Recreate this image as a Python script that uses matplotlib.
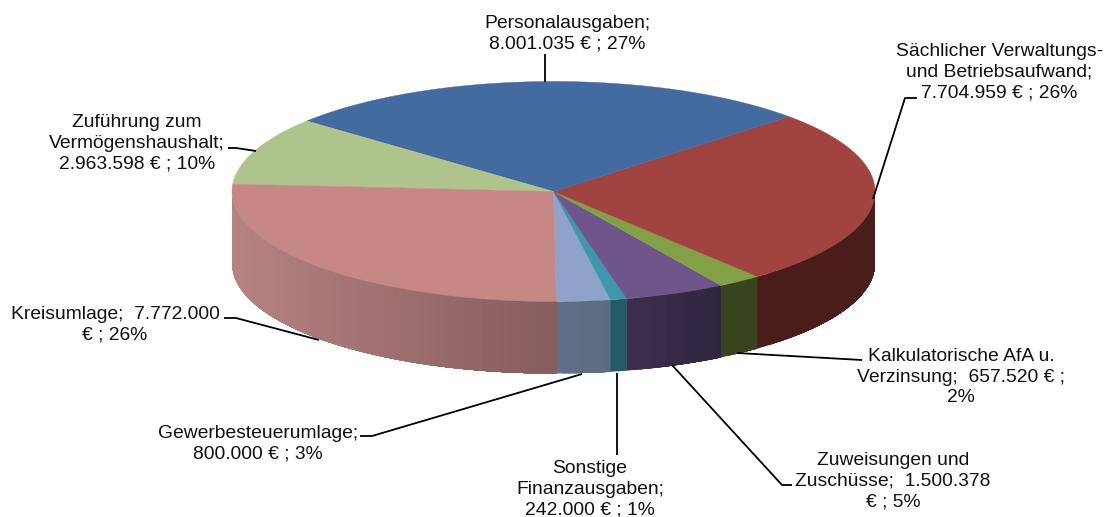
import numpy as np
import matplotlib
matplotlib.use("Agg")
import matplotlib.pyplot as plt
from matplotlib.colors import to_rgb

# data, in drawing order (counter-clockwise on screen, starting at the front)
categories = ["Gewerbesteuerumlage", "Sonstige Finanzausgaben", "Zuweisungen und Zuschüsse",
              "Kalkulatorische AfA u. Verzinsung", "Sächlicher Verwaltungs- und Betriebsaufwand",
              "Personalausgaben", "Zuführung zum Vermögenshaushalt", "Kreisumlage"]
values = [800000, 242000, 1500378, 657520, 7704959, 8001035, 2963598, 7772000]
labels = ["Gewerbesteuerumlage;\n800.000 € ; 3%",
          "Sonstige\nFinanzausgaben;\n242.000 € ; 1%",
          "Zuweisungen und\nZuschüsse;  1.500.378\n€ ; 5%",
          "Kalkulatorische AfA u.\nVerzinsung;  657.520 € ;\n2%",
          "Sächlicher Verwaltungs-\nund Betriebsaufwand;\n7.704.959 € ; 26%",
          "Personalausgaben;\n8.001.035 € ; 27%",
          "Zuführung zum\nVermögenshaushalt;\n2.963.598 € ; 10%",
          "Kreisumlage;  7.772.000\n€ ; 26%"]

# styles
top_colors = ["#8FA3C9", "#3F97AE", "#6E558A", "#82A046", "#A04341", "#436B9F", "#AEC48C", "#C58885"]
side_near = ["#5F7088", "#245B66", "#3F2E4E", "#39441E", "#4A1D1A", "#2A4263", "#6E7C58", "#875C5C"]
side_far = ["#5B6B80", "#245B66", "#2E2640", "#39441E", "#4A1D1A", "#2A4263", "#6E7C58", "#B58382"]
label_pos = [(258, 444), (590, 489.5), (893, 481), (961, 377), (999.5, 72), (567, 34), (137, 143), (115, 325)]
leaders = [[(360, 436), (372, 436), (582, 374)],
           [(617, 373), (617, 455)],
           [(792, 485), (782, 485), (672, 365)],
           [(862, 360), (737, 353)],
           [(917, 98), (905, 98), (873, 199)],
           [(545, 54), (545, 82)],
           [(228, 148), (236, 148), (256, 151)],
           [(224, 318), (236, 318), (319, 340)]]

CX, CY, RX, RY, DEPTH = 553.5, 191.5, 321.5, 110.0, 72.0
ROTATION = np.deg2rad(0.5)
FONT = "Liberation Sans"

fig = plt.figure(figsize=(11.04, 5.17), dpi=100)
ax = fig.add_axes([0, 0, 1, 1])
ax.set_xlim(0, 1104)
ax.set_ylim(517, 0)
ax.axis("off")


def rim(theta, dy=0.0):
    return CX + RX * np.sin(theta), CY + RY * np.cos(theta) + dy


fractions = np.array(values, dtype=float) / np.sum(values)
edges = ROTATION + np.concatenate([[0.0], np.cumsum(fractions)]) * 2 * np.pi

# side walls: only the front half of the rim is visible
for i in range(len(values)):
    a0 = edges[i]
    a1 = edges[i + 1]
    spans = []
    if a0 < np.pi / 2:
        spans.append((a0, min(a1, np.pi / 2)))
    if a1 > 3 * np.pi / 2:
        spans.append((max(a0, 3 * np.pi / 2), a1))
    for s0, s1 in spans:
        xa, xb = rim(s0)[0], rim(s1)[0]
        n = max(2, int(abs(xb - xa) / 6))
        near, far = np.array(to_rgb(side_near[i])), np.array(to_rgb(side_far[i]))
        ts = np.linspace(s0, s1, n + 1)
        x0, x1 = sorted((xa, xb))
        # painter's order: every band reaches to the end of the slice, so the next
        # band overdraws it and no seams show between bands
        for t0, t1 in zip(ts[:-1], ts[1:]):
            th = np.linspace(t0, s1, 60)
            x, y = rim(th)
            xm = rim((t0 + t1) / 2)[0]
            # the colour runs across the slice, from its edge nearest the centre outwards
            if abs(x0 - CX) < abs(x1 - CX):
                u = (xm - x0) / max(x1 - x0, 1e-6)
            else:
                u = (x1 - xm) / max(x1 - x0, 1e-6)
            col = near + (far - near) * u
            px = np.concatenate([x, x[::-1]])
            py = np.concatenate([y, (y + DEPTH)[::-1]])
            ax.fill(px, py, facecolor=col, edgecolor="none", zorder=1)

# top face
for i in range(len(values)):
    th = np.linspace(edges[i], edges[i + 1], 200)
    x, y = rim(th)
    ax.fill(np.r_[CX, x], np.r_[CY, y], facecolor=top_colors[i], edgecolor=top_colors[i],
            lw=0.3, zorder=2)

# leader lines and labels
for pts in leaders:
    xs, ys = zip(*pts)
    ax.plot(xs, ys, color="black", lw=1.3, zorder=3, solid_capstyle="butt", solid_joinstyle="round")
for text, (tx, ty) in zip(labels, label_pos):
    ax.text(tx, ty, text, ha="center", va="center", family=FONT, fontsize=13.9,
            color="#111111", linespacing=1.27, zorder=4)

fig.savefig("out.png", dpi=100, facecolor="white")
